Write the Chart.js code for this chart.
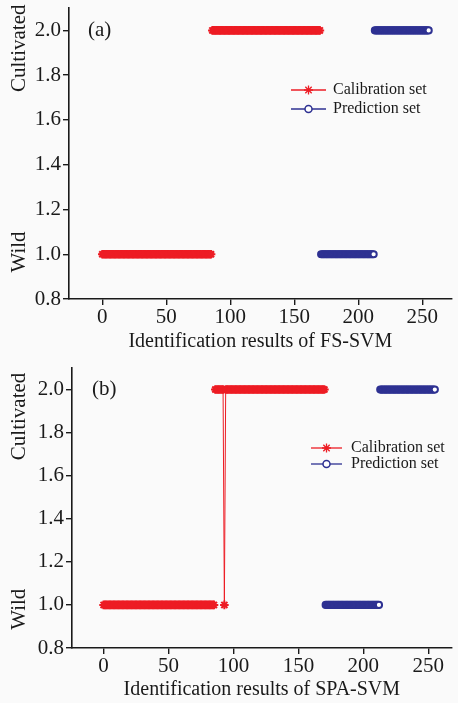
<!DOCTYPE html>
<html>
<head>
<meta charset="utf-8">
<script src="https://cdn.jsdelivr.net/npm/chart.js@4/dist/chart.umd.min.js"></script>
<style>
  html, body { margin: 0; padding: 0; background: #fafafa; }
  #wrap { position: relative; width: 458px; height: 703px; overflow: hidden; }
  .panel { position: absolute; left: 0; width: 458px; }
  canvas { display: block; }
</style>
</head>
<body>
<div id="wrap">
  <div class="panel" style="top:0;height:351px"><canvas id="chart-a" width="458" height="351"></canvas></div>
  <div class="panel" style="top:351px;height:352px"><canvas id="chart-b" width="458" height="352"></canvas></div>
</div>
<script>
// sample numbers where each group starts (0..255, 256 samples)
var calWildStart = 0;     // calibration, wild (86 samples)
var calCultStart = 86;    // calibration, cultivated (85 samples)
var predWildStart = 171;  // prediction, wild (42 samples)
var predCultStart = 213;  // prediction, cultivated (43 samples)

// predicted class per sample: 1 = Wild, 2 = Cultivated
var calWildA = [
  1,1,1,1,1,1,1,1,1,1, 1,1,1,1,1,1,1,1,1,1, 1,1,1,1,1,1,1,1,1,1,
  1,1,1,1,1,1,1,1,1,1, 1,1,1,1,1,1,1,1,1,1, 1,1,1,1,1,1,1,1,1,1,
  1,1,1,1,1,1,1,1,1,1, 1,1,1,1,1,1,1,1,1,1, 1,1,1,1,1,1
];
var calCultA = [
  2,2,2,2,2,2,2,2,2,2, 2,2,2,2,2,2,2,2,2,2, 2,2,2,2,2,2,2,2,2,2,
  2,2,2,2,2,2,2,2,2,2, 2,2,2,2,2,2,2,2,2,2, 2,2,2,2,2,2,2,2,2,2,
  2,2,2,2,2,2,2,2,2,2, 2,2,2,2,2,2,2,2,2,2, 2,2,2,2,2
];
var calWildB = [
  1,1,1,1,1,1,1,1,1,1, 1,1,1,1,1,1,1,1,1,1, 1,1,1,1,1,1,1,1,1,1,
  1,1,1,1,1,1,1,1,1,1, 1,1,1,1,1,1,1,1,1,1, 1,1,1,1,1,1,1,1,1,1,
  1,1,1,1,1,1,1,1,1,1, 1,1,1,1,1,1,1,1,1,1, 1,1,1,1,1,1
];
// one cultivated calibration sample (no. 93) is called wild by SPA-SVM
var calCultB = [
  2,2,2,2,2,2,2,1,2,2, 2,2,2,2,2,2,2,2,2,2, 2,2,2,2,2,2,2,2,2,2,
  2,2,2,2,2,2,2,2,2,2, 2,2,2,2,2,2,2,2,2,2, 2,2,2,2,2,2,2,2,2,2,
  2,2,2,2,2,2,2,2,2,2, 2,2,2,2,2,2,2,2,2,2, 2,2,2,2,2
];
// prediction set is the same in both panels
var predWild = [
  1,1,1,1,1,1,1,1,1,1, 1,1,1,1,1,1,1,1,1,1, 1,1,1,1,1,1,1,1,1,1,
  1,1,1,1,1,1,1,1,1,1, 1,1
];
var predCult = [
  2,2,2,2,2,2,2,2,2,2, 2,2,2,2,2,2,2,2,2,2, 2,2,2,2,2,2,2,2,2,2,
  2,2,2,2,2,2,2,2,2,2, 2,2,2
];

var yTicks = [0.8, 1.0, 1.2, 1.4, 1.6, 1.8, 2.0];
var xTicks = [0, 50, 100, 150, 200, 250];

var RED = "#ed1c24";
var BLUE = "#2e3192";
var INK = "#1a1a1a";
var SERIF = "'Liberation Serif', 'Times New Roman', serif";

function points(start, ys) {
  var out = [];
  for (var i = 0; i < ys.length; i++) {
    out.push({ x: start + i, y: ys[i] });
  }
  return out;
}

function calSet(start, ys) {
  return {
    label: "Calibration set",
    data: points(start, ys),
    showLine: true,
    borderColor: RED,
    backgroundColor: RED,
    borderWidth: 1,
    pointStyle: "star",
    pointRadius: 4.3,
    pointBorderWidth: 2,
    pointBorderColor: RED,
  };
}

function predSet(start, ys) {
  return {
    label: "Prediction set",
    data: points(start, ys),
    showLine: true,
    borderColor: BLUE,
    backgroundColor: "#ffffff",
    borderWidth: 1,
    pointStyle: "circle",
    pointRadius: 3.1,
    pointBorderWidth: 2,
    pointBorderColor: BLUE,
    pointBackgroundColor: "#ffffff",
  };
}

// panel tag, two y labels and the line+marker legend
var panelText = {
  id: "panelText",
  afterDraw: function (chart, args, opts) {
    var ctx = chart.ctx;
    var area = chart.chartArea;
    var ys = chart.scales.y;
    ctx.save();
    ctx.fillStyle = INK;
    ctx.textBaseline = "middle";

    ctx.font = "21px " + SERIF;
    ctx.textAlign = "left";
    ctx.fillText(opts.tag, area.left + opts.tagDx, ys.getPixelForValue(2.0));

    ctx.textAlign = "center";
    opts.yLabels.forEach(function (l) {
      ctx.save();
      ctx.translate(opts.yLabelX, ys.getPixelForValue(l.at));
      ctx.rotate(-Math.PI / 2);
      ctx.fillText(l.text, 0, 0);
      ctx.restore();
    });

    var lg = opts.legend;
    var entries = [
      { text: "Calibration set", color: RED, style: "star", r: 4.5, fill: RED, bw: 1.3 },
      { text: "Prediction set", color: BLUE, style: "circle", r: 3.5, fill: "#ffffff", bw: 1.5 },
    ];
    ctx.font = "16px " + SERIF;
    ctx.textAlign = "left";
    entries.forEach(function (e, i) {
      var y = lg.y[i];
      ctx.strokeStyle = e.color;
      ctx.lineWidth = 1.3;
      ctx.beginPath();
      ctx.moveTo(lg.x1, y);
      ctx.lineTo(lg.x2, y);
      ctx.stroke();
      ctx.fillStyle = e.fill;
      ctx.lineWidth = e.bw;
      Chart.helpers.drawPoint(ctx, { pointStyle: e.style, radius: e.r, borderWidth: e.bw }, (lg.x1 + lg.x2) / 2, y);
      ctx.fillStyle = INK;
      ctx.fillText(e.text, lg.textX, y);
    });
    ctx.restore();
  },
};

function makeChart(id, cfg) {
  return new Chart(document.getElementById(id), {
    type: "scatter",
    data: {
      datasets: [
        calSet(calWildStart, cfg.calWild),
        calSet(calCultStart, cfg.calCult),
        predSet(predWildStart, predWild),
        predSet(predCultStart, predCult),
      ],
    },
    options: {
      responsive: false,
      animation: false,
      events: [],
      layout: { padding: { top: cfg.top, left: 0, right: 0, bottom: 0 } },
      plugins: {
        legend: { display: false },
        tooltip: { enabled: false },
        panelText: cfg.text,
      },
      scales: {
        x: {
          type: "linear",
          min: cfg.xMin,
          max: cfg.xMax,
          afterFit: function (s) {
            s.height = cfg.xHeight;
            s.paddingLeft = 0;
            s.paddingRight = 0;
          },
          afterBuildTicks: function (s) {
            s.ticks = xTicks.map(function (v) { return { value: v }; });
          },
          border: { display: true, color: INK, width: 1.6 },
          grid: { drawOnChartArea: false, drawTicks: true, tickLength: 6, color: INK, lineWidth: 1.4 },
          ticks: { color: INK, padding: 0, maxRotation: 0, font: { family: SERIF, size: 21 } },
          title: {
            display: true,
            text: cfg.xTitle,
            color: INK,
            padding: { top: 0, bottom: cfg.titlePad },
            font: { family: SERIF, size: 20, lineHeight: 1 },
          },
        },
        y: {
          min: 0.8,
          max: 2.1,
          afterFit: function (s) {
            s.width = cfg.yWidth;
            s.paddingTop = 0;
            s.paddingBottom = 0;
          },
          afterBuildTicks: function (s) {
            s.ticks = yTicks.map(function (v) { return { value: v }; });
          },
          border: { display: true, color: INK, width: 1.6 },
          grid: { drawOnChartArea: false, drawTicks: true, tickLength: 6, color: INK, lineWidth: 1.4 },
          ticks: {
            color: INK,
            padding: 2,
            font: { family: SERIF, size: 21 },
            callback: function (v) { return Number(v).toFixed(1); },
          },
        },
      },
    },
    plugins: [panelText],
  });
}

makeChart("chart-a", {
  calWild: calWildA,
  calCult: calCultA,
  top: 8,
  yWidth: 69,
  xHeight: 52,
  xMin: -26,
  xMax: 273,
  titlePad: -1,
  xTitle: "Identification results of FS-SVM",
  text: {
    tag: "(a)",
    tagDx: 19,
    yLabelX: 19,
    yLabels: [{ text: "Cultivated", at: 1.92 }, { text: "Wild", at: 1.01 }],
    legend: { x1: 291, x2: 326, textX: 333, y: [90, 109] },
  },
});

makeChart("chart-b", {
  calWild: calWildB,
  calCult: calCultB,
  top: 17,
  yWidth: 72,
  xHeight: 55,
  xMin: -24.3,
  xMax: 268,
  titlePad: 3,
  xTitle: "Identification results of SPA-SVM",
  text: {
    tag: "(b)",
    tagDx: 20,
    yLabelX: 19,
    yLabels: [{ text: "Cultivated", at: 1.875 }, { text: "Wild", at: 0.98 }],
    legend: { x1: 311, x2: 342, textX: 351, y: [97, 113] },
  },
});
</script>
</body>
</html>
